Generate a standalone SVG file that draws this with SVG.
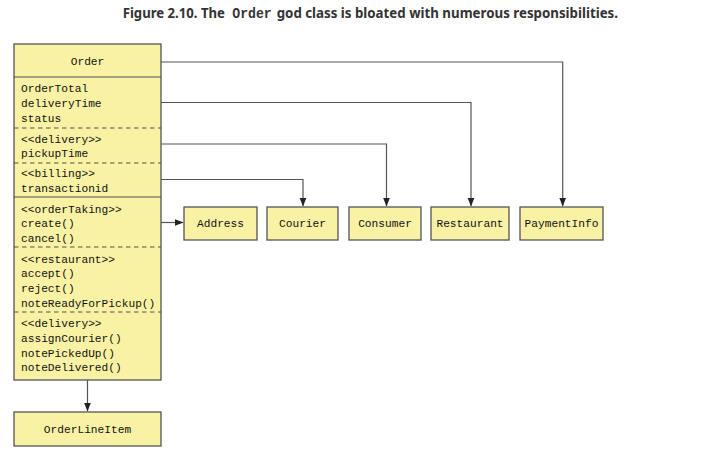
<svg xmlns="http://www.w3.org/2000/svg" width="706" height="472" viewBox="0 0 706 472">
<style>
.box{fill:#f9f1a3;stroke:#555;stroke-width:1.3}
.sep{stroke:#555;stroke-width:1.2}
.dash{stroke:#555;stroke-width:1.2;stroke-dasharray:4.5,3.5}
.t{font-family:"Liberation Mono","DejaVu Sans Mono",monospace;font-size:11.2px;fill:#111}
.c{text-anchor:middle}
.conn{fill:none;stroke:#555;stroke-width:1.2}
.title{font-family:"Noto Sans","Open Sans",sans-serif;font-weight:bold;font-size:14px;fill:#333}
.tmono{font-family:"Liberation Mono","DejaVu Sans Mono",monospace;font-weight:bold;font-size:14px;fill:#333}
</style>
<defs>
<marker id="arr" markerWidth="9" markerHeight="8" refX="8.5" refY="4" orient="auto" markerUnits="userSpaceOnUse">
<path d="M0,0.5 L9,4 L0,7.5 Z" fill="#222"/>
</marker>
</defs>
<rect width="706" height="472" fill="#fff"/>
<g id="title">
<text class="title" x="122.7" y="18" textLength="102.3" lengthAdjust="spacingAndGlyphs">Figure 2.10. The</text>
<text class="tmono" x="232.3" y="18" textLength="39.4" lengthAdjust="spacingAndGlyphs">Order</text>
<text class="title" x="276.7" y="18" textLength="341.3" lengthAdjust="spacingAndGlyphs">god class is bloated with numerous responsibilities.</text>
</g>

<g id="connectors">
<polyline class="conn" points="161,62 562.7,62 562.7,206" marker-end="url(#arr)"/>
<polyline class="conn" points="161,102.5 471,102.5 471,206" marker-end="url(#arr)"/>
<polyline class="conn" points="161,144 386.5,144 386.5,206" marker-end="url(#arr)"/>
<polyline class="conn" points="161,179.5 303,179.5 303,206" marker-end="url(#arr)"/>
<line class="conn" x1="161" y1="222.5" x2="183" y2="222.5" marker-end="url(#arr)"/>
<line class="conn" x1="87.5" y1="380" x2="87.5" y2="411" marker-end="url(#arr)"/>
</g>

<g id="Order">
<rect class="box" x="14" y="44" width="147" height="336"/>
<line class="sep" x1="14" y1="77" x2="161" y2="77"/>
<line class="dash" x1="14" y1="128" x2="161" y2="128"/>
<line class="dash" x1="14" y1="163" x2="161" y2="163"/>
<line class="sep" x1="14" y1="197" x2="161" y2="197"/>
<line class="dash" x1="14" y1="247" x2="161" y2="247"/>
<line class="dash" x1="14" y1="312" x2="161" y2="312"/>
<text class="t c" x="87.5" y="65">Order</text>
<text class="t" x="21" y="92">OrderTotal</text>
<text class="t" x="21" y="107">deliveryTime</text>
<text class="t" x="21" y="122">status</text>
<text class="t" x="21" y="143">&lt;&lt;delivery&gt;&gt;</text>
<text class="t" x="21" y="157">pickupTime</text>
<text class="t" x="21" y="177">&lt;&lt;billing&gt;&gt;</text>
<text class="t" x="21" y="192">transactionid</text>
<text class="t" x="21" y="213">&lt;&lt;orderTaking&gt;&gt;</text>
<text class="t" x="21" y="227">create()</text>
<text class="t" x="21" y="242">cancel()</text>
<text class="t" x="21" y="263">&lt;&lt;restaurant&gt;&gt;</text>
<text class="t" x="21" y="277">accept()</text>
<text class="t" x="21" y="292">reject()</text>
<text class="t" x="21" y="307">noteReadyForPickup()</text>
<text class="t" x="21" y="327">&lt;&lt;delivery&gt;&gt;</text>
<text class="t" x="21" y="342">assignCourier()</text>
<text class="t" x="21" y="357">notePickedUp()</text>
<text class="t" x="21" y="371">noteDelivered()</text>
</g>

<g id="OrderLineItem">
<rect class="box" x="14" y="412" width="147" height="34"/>
<text class="t c" x="87.5" y="433">OrderLineItem</text>
</g>

<g id="Address">
<rect class="box" x="184" y="207" width="73" height="33"/>
<text class="t c" x="220.5" y="227">Address</text>
</g>
<g id="Courier">
<rect class="box" x="267" y="207" width="71" height="33"/>
<text class="t c" x="302.5" y="227">Courier</text>
</g>
<g id="Consumer">
<rect class="box" x="349" y="207" width="72" height="33"/>
<text class="t c" x="385" y="227">Consumer</text>
</g>
<g id="Restaurant">
<rect class="box" x="431" y="207" width="78" height="33"/>
<text class="t c" x="470" y="227">Restaurant</text>
</g>
<g id="PaymentInfo">
<rect class="box" x="520" y="207" width="83" height="33"/>
<text class="t c" x="561.5" y="227">PaymentInfo</text>
</g>
</svg>
